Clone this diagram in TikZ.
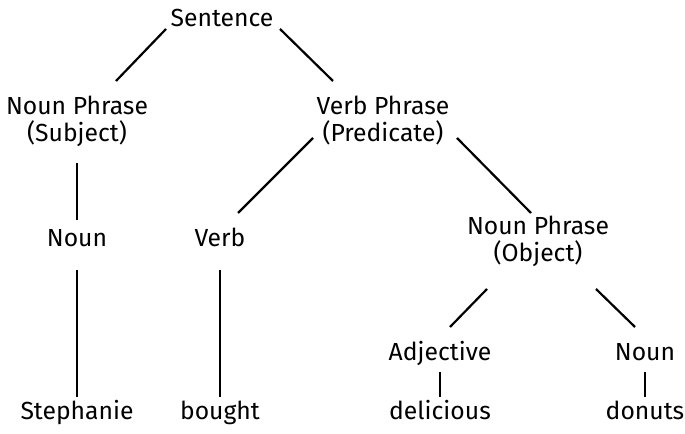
\documentclass[tikz,border=0pt]{standalone}
\usepackage{fontspec}
\setmainfont{Fira Sans}
\usepackage{tikz}
\usetikzlibrary{calc}

\begin{document}
\begin{tikzpicture}[x=0.5bp,y=-0.5bp,line join=bevel,
  word/.style={anchor=base,inner sep=0pt,align=center,font=\fontsize{12.4}{13.8}\selectfont},
  branch/.style={line width=1.1bp,black}]
%%
\useasboundingbox (0,0) rectangle (685,434);
\node (node_sentence) at (222,27) [word] {Sentence};
  \node (node_np_subj) at (77,142) [word] {Noun Phrase\\(Subject)};
  \node (node_vp) at (383,142) [word] {Verb Phrase\\(Predicate)};
  \node (node_noun_1) at (77,247) [word] {Noun};
  \node (node_verb) at (220,247) [word] {Verb};
  \node (node_np_obj) at (538,262) [word] {Noun Phrase\\(Object)};
  \node (node_adj) at (440,361) [word] {Adjective};
  \node (node_noun_2) at (645,361) [word] {Noun};
  \node (node_stephanie) at (77,420) [word] {Stephanie};
  \node (node_bought) at (220,420) [word] {bought};
  \node (node_delicious) at (440,420) [word] {delicious};
  \node (node_donuts) at (645,420) [word] {donuts};
  \draw [branch] ([shift={(-56,2)}]node_sentence.base) -- ([shift={(39,-61)}]node_np_subj.base);
  \draw [branch] ([shift={(58,2)}]node_sentence.base) -- ([shift={(-50,-61)}]node_vp.base);
  \draw [branch] ([shift={(0,21)}]node_np_subj.base) -- ([shift={(0,-27)}]node_noun_1.base);
  \draw [branch] ([shift={(-70,-4)}]node_vp.base) -- ([shift={(18,-34)}]node_verb.base);
  \draw [branch] ([shift={(74,-4)}]node_vp.base) -- ([shift={(-7,-49)}]node_np_obj.base);
  \draw [branch] ([shift={(0,23)}]node_noun_1.base) -- ([shift={(0,-23)}]node_stephanie.base);
  \draw [branch] ([shift={(0,23)}]node_verb.base) -- ([shift={(0,-23)}]node_bought.base);
  \draw [branch] ([shift={(-51,27)}]node_np_obj.base) -- ([shift={(10,-34)}]node_adj.base);
  \draw [branch] ([shift={(58,27)}]node_np_obj.base) -- ([shift={(-10,-34)}]node_noun_2.base);
  \draw [branch] ([shift={(0,11)}]node_adj.base) -- ([shift={(0,-23)}]node_delicious.base);
  \draw [branch] ([shift={(0,11)}]node_noun_2.base) -- ([shift={(0,-23)}]node_donuts.base);
%
\end{tikzpicture}
\end{document}
